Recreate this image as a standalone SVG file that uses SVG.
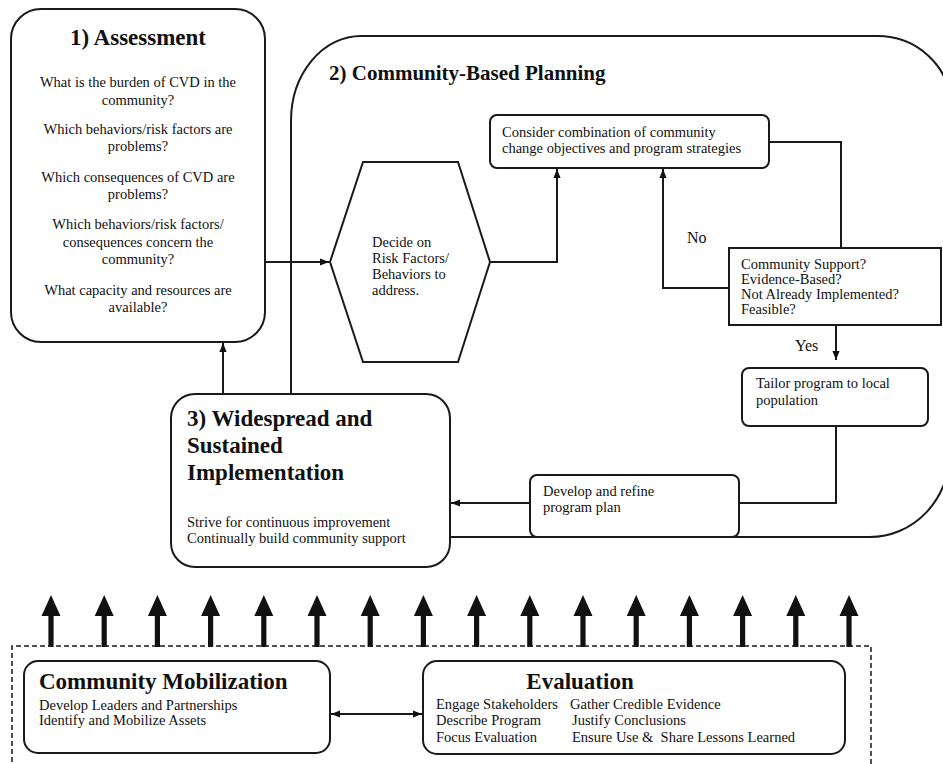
<svg xmlns="http://www.w3.org/2000/svg" width="943" height="764" viewBox="0 0 943 764">
<defs>
<style>
.bx{fill:#fff;stroke:#1a1a1a;stroke-width:2}
.ln{fill:none;stroke:#1a1a1a;stroke-width:2}
.t{font-family:"Liberation Serif","Times New Roman",serif;font-size:14.5px;fill:#111}
.c{text-anchor:middle}
.h{font-family:"Liberation Serif","Times New Roman",serif;font-size:23px;font-weight:bold;fill:#111}
.big{fill:#111}
</style>
<marker id="ah" viewBox="0 0 10 10" refX="10" refY="5" markerWidth="4.5" markerHeight="4.5" orient="auto-start-reverse" markerUnits="strokeWidth">
<path d="M0,1 L10,5 L0,9 Z" fill="#111"/>
</marker>
<path id="ba" d="M0,595 L9.5,616 L2.6,616 L2.6,647 L-2.6,647 L-2.6,616 L-9.5,616 Z"/>
</defs>
<rect width="943" height="764" fill="#fff"/>

<g id="planning">
<path class="ln" d="M291,394 L291,121 A70,85 0 0 1 361,36 L877,36 A73,68 0 0 1 950,104 L950,452 A80,85 0 0 1 870,537 L450,537"/>
<text class="h" x="329" y="80" style="font-size:21px">2) Community-Based Planning</text>
</g>

<g id="assessment">
<rect class="bx" x="11" y="9" width="254" height="333" rx="30"/>
<text class="h c" x="138" y="45">1) Assessment</text>
<text class="t c" x="138" y="87">What is the burden of CVD in the</text>
<text class="t c" x="138" y="105">community?</text>
<text class="t c" x="138" y="134">Which behaviors/risk factors are</text>
<text class="t c" x="138" y="151">problems?</text>
<text class="t c" x="138" y="182">Which consequences of CVD are</text>
<text class="t c" x="138" y="199">problems?</text>
<text class="t c" x="138" y="229">Which behaviors/risk factors/</text>
<text class="t c" x="138" y="247">consequences concern the</text>
<text class="t c" x="138" y="264">community?</text>
<text class="t c" x="138" y="295">What capacity and resources are</text>
<text class="t c" x="138" y="312">available?</text>
</g>

<g id="decide">
<polygon class="bx" points="363,162 458,162 490,262 458,362 363,362 330,262"/>
<text class="t" x="372" y="247">Decide on</text>
<text class="t" x="372" y="263">Risk Factors/</text>
<text class="t" x="372" y="279">Behaviors to</text>
<text class="t" x="372" y="295">address.</text>
</g>

<g id="consider">
<rect class="bx" x="490" y="115" width="279" height="53" rx="7"/>
<text class="t" x="502" y="137">Consider combination of community</text>
<text class="t" x="502" y="153">change objectives and program strategies</text>
</g>

<g id="criteria">
<rect class="bx" x="729" y="248" width="212" height="77"/>
<text class="t" x="741" y="269">Community Support?</text>
<text class="t" x="741" y="284">Evidence-Based?</text>
<text class="t" x="741" y="299">Not Already Implemented?</text>
<text class="t" x="741" y="314">Feasible?</text>
</g>

<g id="tailor">
<rect class="bx" x="742" y="368" width="186" height="58" rx="7"/>
<text class="t" x="756" y="388">Tailor program to local</text>
<text class="t" x="756" y="405">population</text>
</g>

<g id="develop">
<rect class="bx" x="530" y="475" width="209" height="62" rx="7"/>
<text class="t" x="543" y="496">Develop and refine</text>
<text class="t" x="543" y="512">program plan</text>
</g>

<g id="implementation">
<rect class="bx" x="171" y="394" width="279" height="173" rx="24"/>
<text class="h" x="187" y="426">3) Widespread and</text>
<text class="h" x="187" y="453">Sustained</text>
<text class="h" x="187" y="480">Implementation</text>
<text class="t" x="187" y="527">Strive for continuous improvement</text>
<text class="t" x="187" y="543">Continually build community support</text>
</g>

<g id="mobilization">
<rect class="bx" x="24" y="661" width="306" height="92" rx="14"/>
<text class="h" x="39" y="689">Community Mobilization</text>
<text class="t" x="39" y="710">Develop Leaders and Partnerships</text>
<text class="t" x="39" y="725">Identify and Mobilize Assets</text>
</g>

<g id="evaluation">
<rect class="bx" x="423" y="661" width="422" height="93" rx="14"/>
<text class="h c" x="580" y="689">Evaluation</text>
<text class="t" x="436" y="709">Engage Stakeholders</text>
<text class="t" x="436" y="725">Describe Program</text>
<text class="t" x="436" y="742">Focus Evaluation</text>
<text class="t" x="570" y="709">Gather Credible Evidence</text>
<text class="t" x="572" y="725">Justify Conclusions</text>
<text class="t" x="572" y="742" style="white-space:pre">Ensure Use &amp;  Share Lessons Learned</text>
</g>

<g id="connectors">
<path class="ln" d="M223,394 L223,343" marker-end="url(#ah)"/>
<path class="ln" d="M265,262 L329,262" marker-end="url(#ah)"/>
<path class="ln" d="M490,262 L557,262 L557,169" marker-end="url(#ah)"/>
<path class="ln" d="M769,142 L841,142 L841,248"/>
<path class="ln" d="M729,288 L663,288 L663,169" marker-end="url(#ah)"/>
<path class="ln" d="M836,325 L836,360" marker-end="url(#ah)"/>
<path class="ln" d="M836,426 L836,503 L739,503"/>
<path class="ln" d="M530,503 L451,503" marker-end="url(#ah)"/>
<path class="ln" d="M331,714 L422,714" marker-start="url(#ah)" marker-end="url(#ah)"/>
<text class="t" x="687" y="243" style="font-size:16px">No</text>
<text class="t" x="795" y="351" style="font-size:16px">Yes</text>
</g>

<g id="support-arrows" class="big">
<use href="#ba" x="51"/>
<use href="#ba" x="104.2"/>
<use href="#ba" x="157.4"/>
<use href="#ba" x="210.6"/>
<use href="#ba" x="263.8"/>
<use href="#ba" x="317"/>
<use href="#ba" x="370.2"/>
<use href="#ba" x="423.4"/>
<use href="#ba" x="476.6"/>
<use href="#ba" x="529.8"/>
<use href="#ba" x="583"/>
<use href="#ba" x="636.2"/>
<use href="#ba" x="689.4"/>
<use href="#ba" x="742.6"/>
<use href="#ba" x="795.8"/>
<use href="#ba" x="849"/>
</g>

<g id="foundation">
<path d="M12,770 L12,646 L871,646 L871,770" fill="none" stroke="#1a1a1a" stroke-width="1.5" stroke-dasharray="5,3"/>
</g>
</svg>
